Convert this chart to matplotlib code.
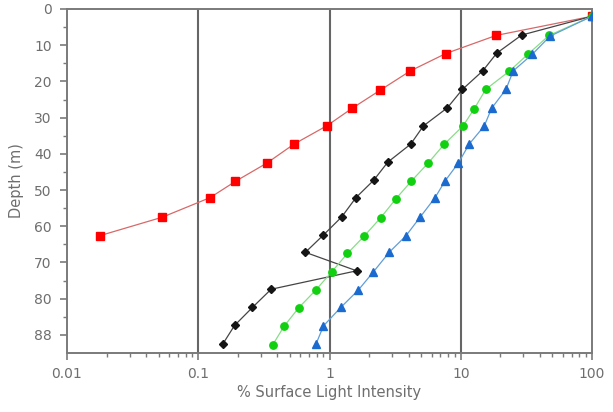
import matplotlib
matplotlib.use("Agg")
import matplotlib.pyplot as plt
from matplotlib.ticker import FixedLocator, NullFormatter, LogLocator

red_depth = [2, 7.3, 12.3, 17.1, 22.4, 27.4, 32.2, 37.3, 42.5, 47.6, 52.1, 57.5, 62.6]
red_light = [100, 18.6, 7.69, 4.13, 2.44, 1.49, 0.96, 0.537, 0.335, 0.192, 0.123, 0.0532, 0.0178]

black_depth = [2, 7.2, 12.2, 17.1, 22.2, 27.3, 32.3, 37.3, 42.3, 47.3, 52.1, 57.4, 62.4, 67.2, 72.3, 77.4, 82.4, 87.4, 92.5]
black_light = [100, 29.1, 18.8, 14.7, 10.3, 7.9, 5.19, 4.16, 2.78, 2.17, 1.59, 1.24, 0.90, 0.655, 1.61, 0.359, 0.259, 0.189, 0.154]

green_depth = [2, 7.3, 12.4, 17.2, 22.2, 27.5, 32.3, 37.4, 42.5, 47.5, 52.4, 57.6, 62.7, 67.5, 72.6, 77.6, 82.5, 87.6, 92.7]
green_light = [100, 47.1, 32.7, 23.4, 15.5, 12.7, 10.4, 7.46, 5.66, 4.21, 3.21, 2.46, 1.84, 1.37, 1.04, 0.787, 0.583, 0.451, 0.37]

blue_depth = [2, 7.5, 12.5, 17.1, 22.2, 27.4, 32.3, 37.3, 42.5, 47.5, 52.1, 57.5, 62.6, 67.2, 72.6, 77.6, 82.4, 87.5, 92.5]
blue_light = [100, 47.9, 35.1, 25.1, 22.1, 17.2, 15.1, 11.6, 9.6, 7.59, 6.37, 4.90, 3.83, 2.85, 2.16, 1.66, 1.22, 0.90, 0.79]

x_ticks = [0.01, 0.1, 1, 10, 100]
x_ticklabels = ["0.01", "0.1", "1", "10", "100"]
y_ticks = [0, 10, 20, 30, 40, 50, 60, 70, 80, 90]
y_ticklabels = ["0", "10", "20", "30", "40", "50", "60", "70", "80", "88"]

plt.rcParams['font.family'] = ['DejaVu Sans']
fig = plt.figure(figsize=(6.13, 4.12), dpi=100)
ax = fig.add_axes([67/613, 1-353/412, (592-67)/613, (353-9)/412])

gray = '#7a7a7a'
txt = '#6e6e6e'

for xv in [0.1, 1, 10]:
    ax.axvline(xv, color='#666666', lw=1.5, zorder=1)

ax.plot(red_light, red_depth, color='#d86868', lw=0.9, marker='s', ms=5.3,
        mfc='#ff0000', mec='#ff0000', zorder=3)
ax.plot(black_light, black_depth, color='#454545', lw=0.9, marker='D', ms=3.6,
        mfc='#151515', mec='#151515', zorder=4)
ax.plot(green_light, green_depth, color='#88dd88', lw=0.9, marker='o', ms=5.3,
        mfc='#10d010', mec='#10d010', zorder=5)
ax.plot(blue_light, blue_depth, color='#609ed8', lw=0.9, marker='^', ms=5.3,
        mfc='#1a6ad0', mec='#1a6ad0', zorder=6)

ax.set_xscale('log')
ax.set_xlim(0.01, 100)
ax.set_ylim(95, 0)

ax.set_xticks(x_ticks)
ax.set_xticklabels(x_ticklabels)
ax.xaxis.set_minor_locator(LogLocator(base=10, subs=range(2, 10)))
ax.xaxis.set_minor_formatter(NullFormatter())

ax.set_yticks(y_ticks)
ax.set_yticklabels(y_ticklabels)
ax.yaxis.set_minor_locator(FixedLocator([5, 15, 25, 35, 45, 55, 65, 75, 85]))

ax.tick_params(axis='both', which='major', direction='out', length=5, width=1.2,
               color=gray, labelcolor=txt, labelsize=10, pad=5)
ax.tick_params(axis='both', which='minor', direction='out', length=3, width=1.0,
               color=gray)
ax.tick_params(axis='y', which='major', pad=6)

for s in ax.spines.values():
    s.set_color(gray)
    s.set_linewidth(1.4)

ax.set_xlabel('% Surface Light Intensity', color=txt, fontsize=10.5, labelpad=3)
ax.set_ylabel('Depth (m)', color=txt, fontsize=10.5, labelpad=7)

fig.savefig('out.png', dpi=100)
